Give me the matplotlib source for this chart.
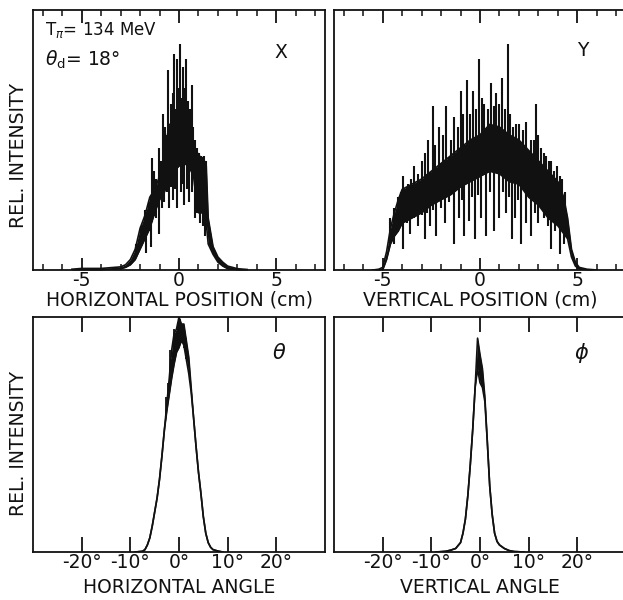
import matplotlib
matplotlib.use('Agg')
import matplotlib.pyplot as plt
from matplotlib.ticker import MultipleLocator, FixedLocator
import numpy as np

# ── Data (relative intensity, 1.0 = full axis height) ────────────────────────
# X : horizontal position (cm) -- envelope of the dense histogram band
X_POS = [-5.5, -5.0, -4.0, -3.0, -2.75, -2.5, -2.25, -2.0, -1.75, -1.5, -1.25,
         -1.0, -0.75, -0.5, -0.25, 0.0, 0.25, 0.5, 0.75, 0.9, 1.0, 1.25, 1.4,
         1.5, 1.75, 2.0, 2.25, 2.5, 3.0, 3.5]
X_LO = [0.0, 0.0, 0.0, 0.005, 0.01, 0.02, 0.04, 0.08, 0.12, 0.16, 0.22,
        0.27, 0.30, 0.35, 0.38, 0.40, 0.41, 0.40, 0.36, 0.26, 0.22, 0.22, 0.18,
        0.10, 0.06, 0.03, 0.015, 0.005, 0.0, 0.0]
X_HI = [0.003, 0.006, 0.006, 0.012, 0.02, 0.04, 0.08, 0.16, 0.21, 0.28, 0.31,
        0.36, 0.45, 0.56, 0.56, 0.56, 0.54, 0.50, 0.47, 0.46, 0.44, 0.43, 0.40,
        0.20, 0.09, 0.05, 0.03, 0.015, 0.005, 0.002]
X_SPIKE_X = [-2.2, -1.95, -1.73, -1.56, -1.39, -1.3, -1.19, -1.05, -0.95,
             -0.82, -0.72, -0.65, -0.54, -0.43, -0.33, -0.24, -0.16, -0.08,
             0.0, 0.07, 0.13, 0.20, 0.28, 0.37, 0.44, 0.50, 0.58, 0.65, 0.72,
             0.80, 0.95, 1.05, 1.15, 1.28, 1.38]
X_SPIKE_Y = [0.10, 0.17, 0.23, 0.26, 0.43, 0.38, 0.35, 0.47, 0.42,
             0.60, 0.55, 0.52, 0.77, 0.64, 0.68, 0.83, 0.62, 0.81,
             0.70, 0.87, 0.66, 0.78, 0.70, 0.81, 0.65, 0.60, 0.62, 0.71, 0.55,
             0.50, 0.47, 0.45, 0.44, 0.44, 0.42]
X_DIP_X = [-1.7, -1.45, -1.2, -1.02, -0.85, -0.75, -0.6, -0.51, -0.4, -0.3,
           -0.18, -0.09, 0.1, 0.18, 0.26, 0.4, 0.51, 0.65, 0.82, 0.95, 1.1,
           1.22, 1.35]
X_DIP_Y = [0.065, 0.09, 0.20, 0.14, 0.24, 0.26, 0.30, 0.24, 0.32, 0.27,
           0.31, 0.24, 0.30, 0.33, 0.25, 0.31, 0.26, 0.30, 0.20, 0.22, 0.18,
           0.17, 0.13]

# Y : vertical position (cm)
Y_POS = [-5.5, -5.2, -5.0, -4.8, -4.6, -4.4, -4.2, -4.0, -3.5, -3.0, -2.5,
         -2.0, -1.5, -1.0, -0.5, 0.0, 0.5, 1.0, 1.5, 2.0, 2.5, 3.0, 3.5, 4.0,
         4.3, 4.5, 4.7, 4.9, 5.1, 5.5, 6.0]
Y_LO = [0.0, 0.0, 0.0, 0.04, 0.10, 0.13, 0.15, 0.18, 0.20, 0.22, 0.25,
        0.27, 0.29, 0.32, 0.34, 0.36, 0.38, 0.37, 0.34, 0.33, 0.28, 0.25, 0.20,
        0.17, 0.14, 0.12, 0.05, 0.015, 0.004, 0.0, 0.0]
Y_HI = [0.0, 0.003, 0.01, 0.07, 0.16, 0.22, 0.27, 0.31, 0.33, 0.35, 0.38,
        0.41, 0.44, 0.47, 0.50, 0.52, 0.56, 0.55, 0.52, 0.50, 0.46, 0.42, 0.38,
        0.34, 0.28, 0.20, 0.08, 0.03, 0.01, 0.003, 0.0]
Y_SPIKE_X = [-4.6, -4.4, -4.22, -4.05, -3.96, -3.7, -3.55, -3.38, -3.2, -3.0,
             -2.85, -2.68, -2.44, -2.3, -2.1, -1.9, -1.73, -1.5, -1.33, -1.15,
             -0.99, -0.85, -0.68, -0.5, -0.34, -0.2, -0.03, 0.1, 0.23, 0.4,
             0.56, 0.7, 0.82, 0.98, 1.13, 1.28, 1.42, 1.55, 1.7, 1.85, 2.02,
             2.2, 2.36, 2.6, 2.75, 2.87, 3.0, 3.13, 3.27, 3.4, 3.52, 3.64,
             3.8, 3.98, 4.1, 4.2, 4.35]
Y_SPIKE_Y = [0.20, 0.24, 0.28, 0.30, 0.36, 0.33, 0.35, 0.40, 0.37, 0.42,
             0.45, 0.50, 0.63, 0.48, 0.55, 0.52, 0.63, 0.50, 0.59, 0.55,
             0.69, 0.60, 0.73, 0.60, 0.69, 0.62, 0.81, 0.66, 0.64, 0.62,
             0.72, 0.63, 0.68, 0.64, 0.74, 0.62, 0.87, 0.60, 0.55, 0.56, 0.56,
             0.54, 0.57, 0.50, 0.50, 0.64, 0.52, 0.47, 0.45, 0.44, 0.42, 0.42,
             0.38, 0.40, 0.36, 0.35, 0.30]
Y_DIP_X = [-4.4, -4.15, -3.96, -3.75, -3.6, -3.4, -3.2, -3.0, -2.85, -2.7,
           -2.55, -2.4, -2.27, -2.0, -1.8, -1.6, -1.36, -1.1, -0.95, -0.81,
           -0.55, -0.4, -0.26, -0.1, 0.05, 0.31, 0.5, 0.74, 1.0, 1.2, 1.35,
           1.5, 1.63, 1.8, 1.95, 2.1, 2.35, 2.6, 2.8, 3.0, 3.15, 3.3, 3.5,
           3.64, 3.85, 4.1, 4.3]
Y_DIP_Y = [0.10, 0.16, 0.08, 0.18, 0.14, 0.20, 0.17, 0.21, 0.12, 0.22,
           0.17, 0.23, 0.13, 0.24, 0.18, 0.26, 0.10, 0.20, 0.27, 0.13,
           0.19, 0.28, 0.12, 0.29, 0.20, 0.13, 0.30, 0.15, 0.20, 0.30, 0.22,
           0.28, 0.12, 0.20, 0.27, 0.10, 0.18, 0.13, 0.22, 0.18, 0.24, 0.20,
           0.17, 0.08, 0.15, 0.06, 0.10]

# theta : horizontal angle (deg)
TH_ANG = [-9, -7.5, -7, -6.5, -6, -5.5, -5, -4.5, -4, -3.5, -3, -2.5, -2,
          -1.5, -1, -0.5, 0, 0.5, 1, 1.5, 2, 2.5, 3, 3.5, 4, 4.5, 5, 5.5, 6,
          6.5, 7, 8, 9]
TH_HI = [0.0, 0.003, 0.01, 0.03, 0.06, 0.11, 0.17, 0.23, 0.31, 0.41, 0.52,
         0.63, 0.74, 0.86, 0.93, 0.95, 1.0, 0.97, 0.97, 0.90, 0.83, 0.70, 0.57,
         0.45, 0.34, 0.25, 0.15, 0.08, 0.04, 0.02, 0.01, 0.004, 0.0]
TH_LO = [0.0, 0.003, 0.01, 0.03, 0.06, 0.11, 0.17, 0.23, 0.31, 0.41, 0.52,
         0.60, 0.67, 0.74, 0.80, 0.85, 0.87, 0.90, 0.88, 0.82, 0.76, 0.68, 0.57,
         0.45, 0.34, 0.25, 0.15, 0.08, 0.04, 0.02, 0.01, 0.004, 0.0]
TH_SPIKE_X = [-2.6, -2.2, -1.8, -1.4, -1.0, -0.6, -0.2, 0.3, 0.7, 1.1, 1.5]
TH_SPIKE_Y = [0.66, 0.72, 0.86, 0.82, 0.95, 0.92, 0.98, 0.99, 0.97, 0.96, 0.91]

# phi : vertical angle (deg)
PH_ANG = [-9, -7, -6, -5, -4, -3.5, -3, -2.5, -2, -1.5, -1, -0.5, 0, 0.5, 1,
          1.5, 2, 2.5, 3, 3.5, 4, 5, 6, 7, 9]
PH_HI = [0.0, 0.003, 0.008, 0.015, 0.04, 0.08, 0.14, 0.24, 0.37, 0.52, 0.70,
         0.91, 0.84, 0.78, 0.66, 0.47, 0.28, 0.16, 0.08, 0.045, 0.03, 0.015,
         0.006, 0.002, 0.0]
PH_LO = [0.0, 0.003, 0.008, 0.015, 0.04, 0.08, 0.14, 0.24, 0.37, 0.52, 0.70,
         0.78, 0.72, 0.70, 0.64, 0.47, 0.28, 0.16, 0.08, 0.045, 0.03, 0.015,
         0.006, 0.002, 0.0]

POS_TICKS = [-5, 0, 5]
ANG_TICKS = [-20, -10, 0, 10, 20]
ANG_LABELS = ['-20°', '-10°', '0°', '10°', '20°']

# ── Canvas ───────────────────────────────────────────────────────────────────
W, H = 623, 600
fig = plt.figure(figsize=(W / 100, H / 100), dpi=100)
fig.patch.set_facecolor('white')
plt.rcParams['font.family'] = ['DejaVu Sans']

INK = '#111111'
LW = 1.2


def px_axes(x0, y0, x1, y1):
    # pixel box (top-left origin) -> figure axes
    return fig.add_axes([x0 / W, 1 - y1 / H, (x1 - x0) / W, (y1 - y0) / H])


def style(ax, xlim, ticks, labels=None, minor=None, majlen=9):
    ax.set_xlim(*xlim)
    ax.set_ylim(0, 1)
    ax.set_yticks([])
    for s in ax.spines.values():
        s.set_linewidth(1.3)
        s.set_color(INK)
    ax.xaxis.set_major_locator(FixedLocator(ticks))
    if labels is not None:
        ax.set_xticklabels(labels)
    if minor:
        ax.xaxis.set_minor_locator(MultipleLocator(minor))
    ax.tick_params(axis='x', which='major', direction='in', top=True,
                   length=majlen, width=1.3, color=INK, labelsize=13.5,
                   pad=1, labelcolor=INK)
    ax.tick_params(axis='x', which='minor', direction='in', top=True,
                   length=4, width=1.1, color=INK)


def band(ax, x, lo, hi, sx=None, sy=None, dx=None, dy=None, slw=1.5):
    ax.fill_between(x, lo, hi, color=INK, lw=0, zorder=2)
    ax.plot(x, lo, color=INK, lw=LW, zorder=3)
    ax.plot(x, hi, color=INK, lw=LW, zorder=3)
    if sx is not None:
        ax.vlines(sx, np.interp(sx, x, lo), sy, color=INK, lw=slw, zorder=3)
    if dx is not None:
        ax.vlines(dx, dy, np.interp(dx, x, hi), color=INK, lw=slw, zorder=3)


# ── Panels ───────────────────────────────────────────────────────────────────
ax_x = px_axes(33, 10, 325, 270)
ax_y = px_axes(334, 10, 626, 270)
ax_t = px_axes(33, 317, 325, 552)
ax_p = px_axes(334, 317, 626, 552)

band(ax_x, X_POS, X_LO, X_HI, X_SPIKE_X, X_SPIKE_Y, X_DIP_X, X_DIP_Y)
band(ax_y, Y_POS, Y_LO, Y_HI, Y_SPIKE_X, Y_SPIKE_Y, Y_DIP_X, Y_DIP_Y)
band(ax_t, TH_ANG, TH_LO, TH_HI, TH_SPIKE_X, TH_SPIKE_Y, slw=1.3)
band(ax_p, PH_ANG, PH_LO, PH_HI)

for ax in (ax_x, ax_y):
    style(ax, (-7.5, 7.5), POS_TICKS, ['-5', '0', '5'], minor=1)
for ax in (ax_t, ax_p):
    style(ax, (-30, 30), ANG_TICKS, ANG_LABELS, majlen=11)

LBL = dict(fontsize=13.5, color=INK)
ax_x.set_xlabel('HORIZONTAL POSITION (cm)', labelpad=0, **LBL)
ax_y.set_xlabel('VERTICAL POSITION (cm)', labelpad=0, **LBL)
ax_t.set_xlabel('HORIZONTAL ANGLE', labelpad=4, **LBL)
ax_p.set_xlabel('VERTICAL ANGLE', labelpad=4, **LBL)

fig.text(19 / W, 1 - 155 / H, 'REL. INTENSITY', rotation=90,
         ha='center', va='center', **LBL)
fig.text(19 / W, 1 - 444 / H, 'REL. INTENSITY', rotation=90,
         ha='center', va='center', **LBL)

# ── Annotations ──────────────────────────────────────────────────────────────
fig.text(45 / W, 1 - 30 / H, r'T$_{\pi}$= 134 MeV', ha='left',
         va='center', fontsize=12, color=INK)
fig.text(45 / W, 1 - 60 / H, r'$\theta_{\rm d}$= 18°', ha='left',
         va='center', fontsize=13.5, color=INK)
fig.text(281 / W, 1 - 53 / H, 'X', ha='center', va='center', **LBL)
fig.text(583 / W, 1 - 51 / H, 'Y', ha='center', va='center', **LBL)
fig.text(279 / W, 1 - 353 / H, r'$\theta$', ha='center', va='center',
         fontsize=15, color=INK)
fig.text(582 / W, 1 - 353 / H, r'$\phi$', ha='center', va='center',
         fontsize=15, color=INK)

fig.savefig('out.png', dpi=100, facecolor='white')
plt.close(fig)
